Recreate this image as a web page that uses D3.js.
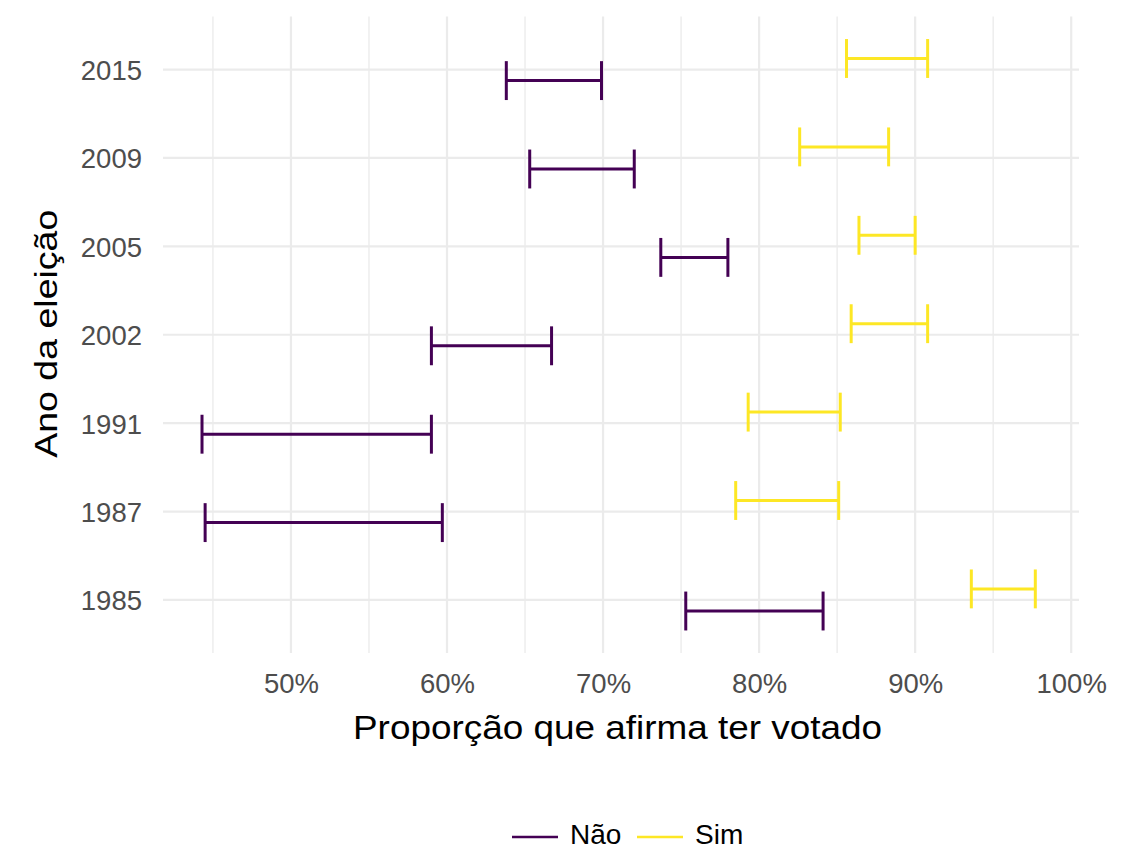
<!DOCTYPE html>
<html>
<head>
<meta charset="utf-8">
<script src="https://cdn.jsdelivr.net/npm/d3@7"></script>
<style>
  html, body { margin: 0; padding: 0; background: #fff; }
  svg { display: block; font-family: "Liberation Sans", Arial, sans-serif; }
</style>
</head>
<body>
<svg id="chart" width="1142" height="850"></svg>
<script>
// Election years, top to bottom
const years = ["2015", "2009", "2005", "2002", "1991", "1987", "1985"];
// Confidence interval bounds for respondents who say they voted
const groups = ["Não", "Sim"];
const naoLower = [0.638, 0.653, 0.737, 0.590, 0.443, 0.445, 0.753];
const naoUpper = [0.699, 0.720, 0.780, 0.667, 0.590, 0.597, 0.841];
const simLower = [0.856, 0.826, 0.864, 0.859, 0.793, 0.785, 0.936];
const simUpper = [0.908, 0.883, 0.900, 0.908, 0.852, 0.851, 0.977];
const xTicks = [0.5, 0.6, 0.7, 0.8, 0.9, 1.0];
const xMinor = [0.45, 0.55, 0.65, 0.75, 0.85, 0.95];
const colors = { "Não": "#440154", "Sim": "#FDE725" };

const rows = [];
years.forEach((y, i) => {
  rows.push({ year: y, group: "Não", lo: naoLower[i], hi: naoUpper[i] });
  rows.push({ year: y, group: "Sim", lo: simLower[i], hi: simUpper[i] });
});

const svg = d3.select("#chart");
const panel = { left: 163, right: 1079, top: 16.5, bottom: 653 };

const x = d3.scaleLinear().domain([0.418, 1.005]).range([panel.left, panel.right]);
const yStep = (panel.bottom - panel.top) / (years.length - 1 + 1.2);
const y = d3.scalePoint().domain(years)
  .range([panel.top + 0.6 * yStep, panel.bottom - 0.6 * yStep]);
// dodge offset within each year
const dodge = d3.scalePoint().domain(["Sim", "Não"]).range([-0.125 * yStep, 0.125 * yStep]);
const capHalf = 0.22 * yStep;

const grid = svg.append("g").attr("stroke", "#EBEBEB").attr("fill", "none");
grid.selectAll("line.minor").data(xMinor).join("line")
  .attr("class", "minor")
  .attr("x1", d => x(d)).attr("x2", d => x(d))
  .attr("y1", panel.top).attr("y2", panel.bottom)
  .attr("stroke-width", 1.3);
grid.selectAll("line.majorx").data(xTicks).join("line")
  .attr("class", "majorx")
  .attr("x1", d => x(d)).attr("x2", d => x(d))
  .attr("y1", panel.top).attr("y2", panel.bottom)
  .attr("stroke-width", 2.2);
grid.selectAll("line.majory").data(years).join("line")
  .attr("class", "majory")
  .attr("x1", panel.left).attr("x2", panel.right)
  .attr("y1", d => y(d)).attr("y2", d => y(d))
  .attr("stroke-width", 2.2);

// error bars
const bars = svg.append("g").selectAll("g").data(rows).join("g")
  .attr("stroke", d => colors[d.group])
  .attr("stroke-width", 3)
  .attr("fill", "none");
bars.append("line")
  .attr("x1", d => x(d.lo)).attr("x2", d => x(d.hi))
  .attr("y1", d => y(d.year) + dodge(d.group))
  .attr("y2", d => y(d.year) + dodge(d.group));
bars.append("line")
  .attr("x1", d => x(d.lo)).attr("x2", d => x(d.lo))
  .attr("y1", d => y(d.year) + dodge(d.group) - capHalf)
  .attr("y2", d => y(d.year) + dodge(d.group) + capHalf);
bars.append("line")
  .attr("x1", d => x(d.hi)).attr("x2", d => x(d.hi))
  .attr("y1", d => y(d.year) + dodge(d.group) - capHalf)
  .attr("y2", d => y(d.year) + dodge(d.group) + capHalf);

// axes
const xAxis = svg.append("g")
  .attr("transform", `translate(0,${panel.bottom})`)
  .call(d3.axisBottom(x).tickValues(xTicks).tickFormat(d3.format(".0%")).tickSize(0).tickPadding(20));
const yAxis = svg.append("g")
  .attr("transform", `translate(${panel.left},0)`)
  .call(d3.axisLeft(y).tickSize(0).tickPadding(21));
[xAxis, yAxis].forEach(a => {
  a.select(".domain").remove();
  a.selectAll("text")
    .attr("fill", "#4D4D4D")
    .style("font-size", "27.5px")
    .style("font-family", "'Liberation Sans', Arial, sans-serif");
});
yAxis.selectAll("text").attr("dy", "0.36em");

// axis titles
svg.append("text")
  .attr("x", (panel.left + panel.right) / 2 - 3.5)
  .attr("y", 739)
  .attr("text-anchor", "middle")
  .attr("fill", "#000")
  .attr("textLength", 529)
  .attr("lengthAdjust", "spacingAndGlyphs")
  .style("font-size", "33px")
  .text("Proporção que afirma ter votado");
svg.append("text")
  .attr("transform", `translate(57,${(panel.top + panel.bottom) / 2 - 1}) rotate(-90)`)
  .attr("text-anchor", "middle")
  .attr("fill", "#000")
  .attr("textLength", 248)
  .attr("lengthAdjust", "spacingAndGlyphs")
  .style("font-size", "31px")
  .text("Ano da eleição");

// legend
const legend = svg.append("g").attr("transform", "translate(512,837)");
const items = [{ g: "Não", dx: 0 }, { g: "Sim", dx: 125 }];
const li = legend.selectAll("g").data(items).join("g")
  .attr("transform", d => `translate(${d.dx},0)`);
li.append("line")
  .attr("x1", 0).attr("x2", 46).attr("y1", 0).attr("y2", 0)
  .attr("stroke", d => colors[d.g]).attr("stroke-width", 2.4);
li.append("text")
  .attr("x", 58).attr("y", 7)
  .attr("fill", "#000")
  .style("font-size", "28px")
  .text(d => d.g);
</script>
</body>
</html>
